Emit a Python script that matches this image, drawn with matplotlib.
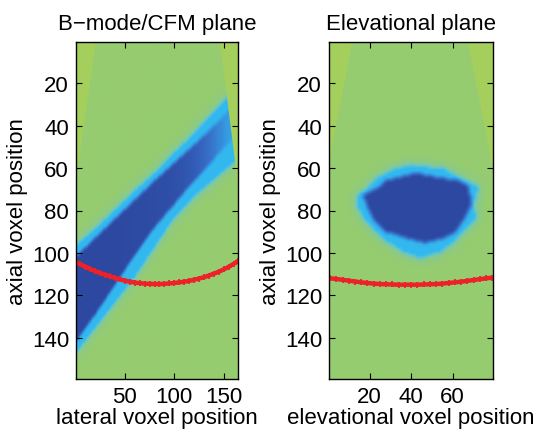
import numpy as np
import matplotlib
matplotlib.use("Agg")
import matplotlib.pyplot as plt
from matplotlib.colors import LinearSegmentedColormap
from matplotlib.patches import Polygon

plt.rcParams['font.family'] = ['Liberation Sans', 'DejaVu Sans']

# ---------------- data ----------------
titles = ["B\u2212mode/CFM plane", "Elevational plane"]
xlabels = ["lateral voxel position", "elevational voxel position"]
ylabel = "axial voxel position"
left_xticks = [50, 100, 150]
right_xticks = [20, 40, 60]
yticks = [20, 40, 60, 80, 100, 120, 140]

n_rows = 159
left_cols = 164
right_cols = 79

# left panel: vessel band edges (axial positions) at lateral control columns
band_x = [0, 20, 40, 60, 80, 100, 120, 140, 155, 165]
band_outer_top = [96, 88, 79, 70, 61.5, 52, 43, 33, 25, 20]
band_dark_top = [102, 93, 84, 75, 66, 57.5, 49, 40, 33, 29]
band_dark_bot = [142, 129, 115, 101, 88, 77, 66, 56, 48, 44]
band_outer_bot = [148, 136, 124, 112, 98, 84, 74, 66, 60, 56]
band_level = [1.0, 1.0, 1.0, 0.98, 0.97, 0.95, 0.88, 0.74, 0.62, 0.55]

# right panel: blob edges (lateral positions) at axial control rows
blob_y = [58, 60, 64, 68.5, 73, 78, 84, 90, 95, 100, 103]
blob_outer_l = [40, 32, 23.7, 18.9, 13.3, 13.3, 17, 21.9, 28, 36, 44]
blob_outer_r = [40, 56, 63.5, 73, 71.5, 70.5, 71.5, 65, 61, 54, 44]
dark_y = [63, 66, 68.5, 73, 78, 84, 90, 93.6, 95]
dark_l = [40, 28, 25, 17, 19, 22, 28, 39.5, 46]
dark_r = [45, 62, 67, 68, 68, 65, 61, 54, 47]

# sector boundary corners (x, y)
left_corner_l = [(0.5, 0.5), (20.6, 0.5), (0.5, 65)]
left_corner_r = [(146.6, 0.5), (164.5, 0.5), (164.5, 68)]
right_corner_l = [(0.5, 0.5), (11.7, 0.5), (0.5, 57)]
right_corner_r = [(67.5, 0.5), (79.5, 0.5), (79.5, 61)]

# red tracked wall positions
red_left_x = [1, 5, 10, 15, 20, 25, 30, 35, 40, 45, 50, 55, 60, 65, 70, 75, 80, 85,
              90, 95, 100, 105, 110, 115, 120, 125, 130, 135, 140, 145, 150, 155, 160, 164]
red_left_y = [104.4, 105.4, 106.5, 107.6, 108.6, 109.5, 110.3, 111.1, 111.8, 112.5,
              113.1, 113.6, 114.0, 114.3, 114.5, 114.6, 114.7, 114.7, 114.6, 114.4,
              114.2, 113.9, 113.6, 113.2, 112.7, 112.1, 111.5, 110.7, 109.8, 108.9,
              107.8, 106.6, 105.2, 104.0]
red_right_x = [1, 4, 7, 10, 13, 16, 19, 22, 25, 28, 31, 34, 37, 40, 43, 46, 49, 52,
               55, 58, 61, 64, 67, 70, 73, 76, 79]
red_right_y = [112.0, 112.3, 112.7, 113.1, 113.5, 113.9, 114.2, 114.5, 114.7, 114.8,
               114.9, 115.0, 115.0, 115.0, 115.0, 114.9, 114.8, 114.7, 114.5, 114.2,
               113.9, 113.6, 113.2, 112.8, 112.4, 112.0, 111.7]

# colours
bg_green = (150/255, 204/255, 112/255)
corner_green = (164/255, 207/255, 92/255)
cmap = LinearSegmentedColormap.from_list("flow", [
    (0.0, bg_green),
    (0.2, (125/255, 200/255, 165/255)),
    (0.4, (75/255, 195/255, 232/255)),
    (0.5, (50/255, 185/255, 240/255)),
    (0.65, (55/255, 150/255, 225/255)),
    (0.8, (55/255, 105/255, 195/255)),
    (1.0, (45/255, 72/255, 160/255)),
])


def blur(a, w):
    k = np.ones(w) / w
    a = np.apply_along_axis(lambda r: np.convolve(r, k, mode='same'), 1, a)
    a = np.apply_along_axis(lambda c: np.convolve(c, k, mode='same'), 0, a)
    return a


# ---------------- build left field ----------------
ys = np.arange(1, n_rows + 1)[:, None]
xl = np.arange(1, left_cols + 1)
ot = np.interp(xl, band_x, band_outer_top)[None, :]
dt = np.interp(xl, band_x, band_dark_top)[None, :]
db = np.interp(xl, band_x, band_dark_bot)[None, :]
ob = np.interp(xl, band_x, band_outer_bot)[None, :]
lev = np.interp(xl, band_x, band_level)[None, :]
outer = ((ys >= ot) & (ys <= ob)).astype(float)
dark = ((ys >= dt) & (ys <= db)).astype(float)
left_field = np.where(dark > 0, lev, 0.5 * outer)
left_field = blur(left_field, 3)
halo = blur(outer, 11) * 0.28
left_field = np.maximum(left_field, halo)

# ---------------- build right field ----------------
xr = np.arange(1, right_cols + 1)[None, :]
yr = np.arange(1, n_rows + 1)
ol = np.interp(yr, blob_y, blob_outer_l, left=np.nan, right=np.nan)[:, None]
orr = np.interp(yr, blob_y, blob_outer_r, left=np.nan, right=np.nan)[:, None]
dl = np.interp(yr, dark_y, dark_l, left=np.nan, right=np.nan)[:, None]
dr = np.interp(yr, dark_y, dark_r, left=np.nan, right=np.nan)[:, None]
with np.errstate(invalid='ignore'):
    bout = ((xr >= ol) & (xr <= orr)).astype(float)
    bdark = ((xr >= dl) & (xr <= dr)).astype(float)
right_field = np.where(bdark > 0, 1.0, 0.5 * bout)
right_field = blur(right_field, 3)
rhalo = blur(bout, 9) * 0.28
right_field = np.maximum(right_field, rhalo)

# ---------------- figure ----------------
fig = plt.figure(figsize=(5.42, 4.35), dpi=100)
W, H = 542, 435
axL = fig.add_axes([76 / W, 1 - 380 / H, (238 - 76) / W, (380 - 43) / H])
axR = fig.add_axes([329 / W, 1 - 380 / H, (493.3 - 329) / W, (380 - 43) / H])

fs = 16
for ax, field, ncol, corners, xt, title, xlab, rx, ry in [
        (axL, left_field, left_cols, [left_corner_l, left_corner_r], left_xticks,
         titles[0], xlabels[0], red_left_x, red_left_y),
        (axR, right_field, right_cols, [right_corner_l, right_corner_r], right_xticks,
         titles[1], xlabels[1], red_right_x, red_right_y)]:
    ax.imshow(field, cmap=cmap, vmin=0, vmax=1, aspect='auto',
              extent=(0.5, ncol + 0.5, n_rows + 0.5, 0.5), interpolation='bilinear')
    for c in corners:
        ax.add_patch(Polygon(c, closed=True, facecolor=corner_green, edgecolor='none'))
    ax.plot(rx, ry, color='#ec2228', marker='+', markersize=5, markeredgewidth=1.3,
            linestyle='-', linewidth=3.2)
    ax.set_xlim(0.5, ncol + 0.5)
    ax.set_ylim(n_rows + 0.5, 0.5)
    ax.set_xticks(xt)
    ax.set_yticks(yticks)
    ax.tick_params(direction='in', top=True, right=True, length=4, width=0.8,
                   labelsize=fs, pad=5)
    for s in ax.spines.values():
        s.set_linewidth(1.0)
    ax.set_title(title, fontsize=fs, pad=9)
    ax.set_xlabel(xlab, fontsize=fs, labelpad=0)
    ax.set_ylabel(ylabel, fontsize=fs, labelpad=3)

fig.savefig("out.png", dpi=100)
